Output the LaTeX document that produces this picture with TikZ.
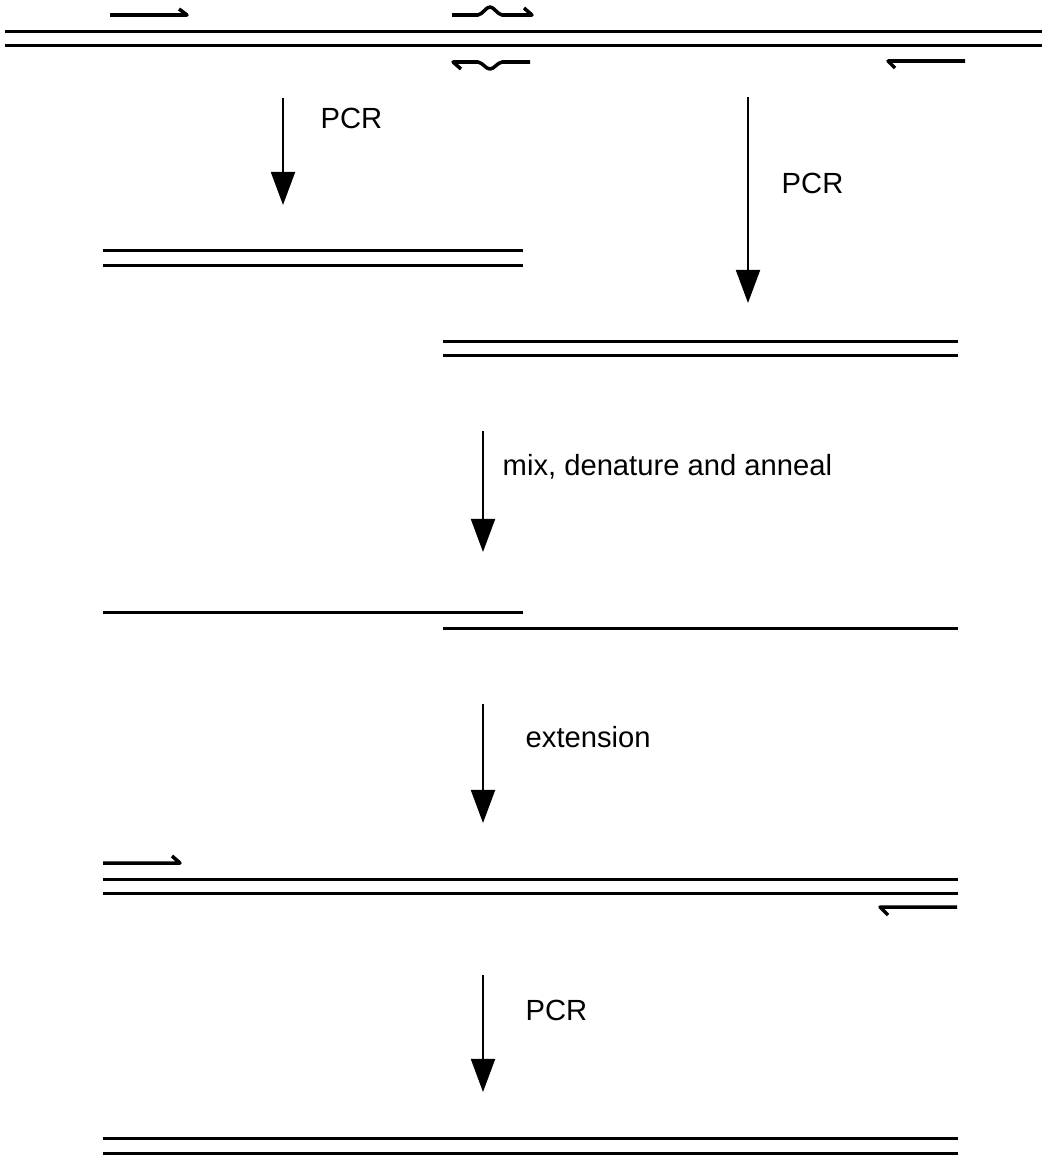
\documentclass[tikz,border=0pt]{standalone}
\usepackage{fontspec}
\setmainfont{Liberation Sans}
\usetikzlibrary{arrows.meta}
\begin{document}
\begin{tikzpicture}[x=0.01cm,y=-0.01cm,
  strand/.style={line width=0.85pt},
  primer/.style={line width=1pt,line join=round},
  steparrow/.style={line width=0.65pt,-{Triangle[width=6.8pt,length=9.4pt]}},
  lbl/.style={anchor=west,inner sep=0pt,font=\fontsize{8.3pt}{10pt}\selectfont}]
\useasboundingbox (0,0) rectangle (1045,1166);
% top duplex
\draw[strand] (5,31) -- (1042,31);
\draw[strand] (5,45) -- (1042,45);
% primers on top
\draw[primer] (110,15) -- (187,15) -- (179,9);
\draw[primer] (452,15) -- (478,15) .. controls (483,14) and (486,7) .. (490,7) .. controls (494,7) and (497,14) .. (502,15) -- (532,15) -- (524,8);
\draw[primer] (461,69) -- (453,62) -- (478,62) .. controls (483,63) and (486,69) .. (490,69) .. controls (494,69) and (497,63) .. (502,62) -- (530,62);
\draw[primer] (895,68) -- (888,61) -- (965,61);
% PCR arrows
\coordinate (a1s) at (283,98); \coordinate (a1e) at (283,205);
\draw[steparrow] (a1s) -- (a1e);
\node[lbl] (l1) at (320,118) {PCR};
\coordinate (a2s) at (748,97); \coordinate (a2e) at (748,303);
\draw[steparrow] (a2s) -- (a2e);
\node[lbl] (l2) at (781,183) {PCR};
% products
\draw[strand] (103,250) -- (523,250);
\draw[strand] (103,265) -- (523,265);
\draw[strand] (443,341) -- (958,341);
\draw[strand] (443,355) -- (958,355);
% mix arrow
\coordinate (a3s) at (483,431); \coordinate (a3e) at (483,552);
\draw[steparrow] (a3s) -- (a3e);
\node[lbl] (l3) at (502,467) {mix, denature and anneal};
% annealed single strands
\draw[strand] (103,612) -- (523,612);
\draw[strand] (443,628) -- (958,628);
% extension arrow
\coordinate (a4s) at (483,704); \coordinate (a4e) at (483,823);
\draw[steparrow] (a4s) -- (a4e);
\node[lbl] (l4) at (525,737) {extension};
% extended duplex with outer primers
\draw[primer] (103,863) -- (180,863) -- (172,856);
\draw[strand] (103,879) -- (958,879);
\draw[strand] (103,893) -- (958,893);
\draw[primer] (888,915) -- (880,907) -- (957,907);
% final PCR
\coordinate (a5s) at (483,975); \coordinate (a5e) at (483,1092);
\draw[steparrow] (a5s) -- (a5e);
\node[lbl] (l5) at (525,1010) {PCR};
\draw[strand] (103,1138) -- (958,1138);
\draw[strand] (103,1153) -- (958,1153);
\end{tikzpicture}
\end{document}
